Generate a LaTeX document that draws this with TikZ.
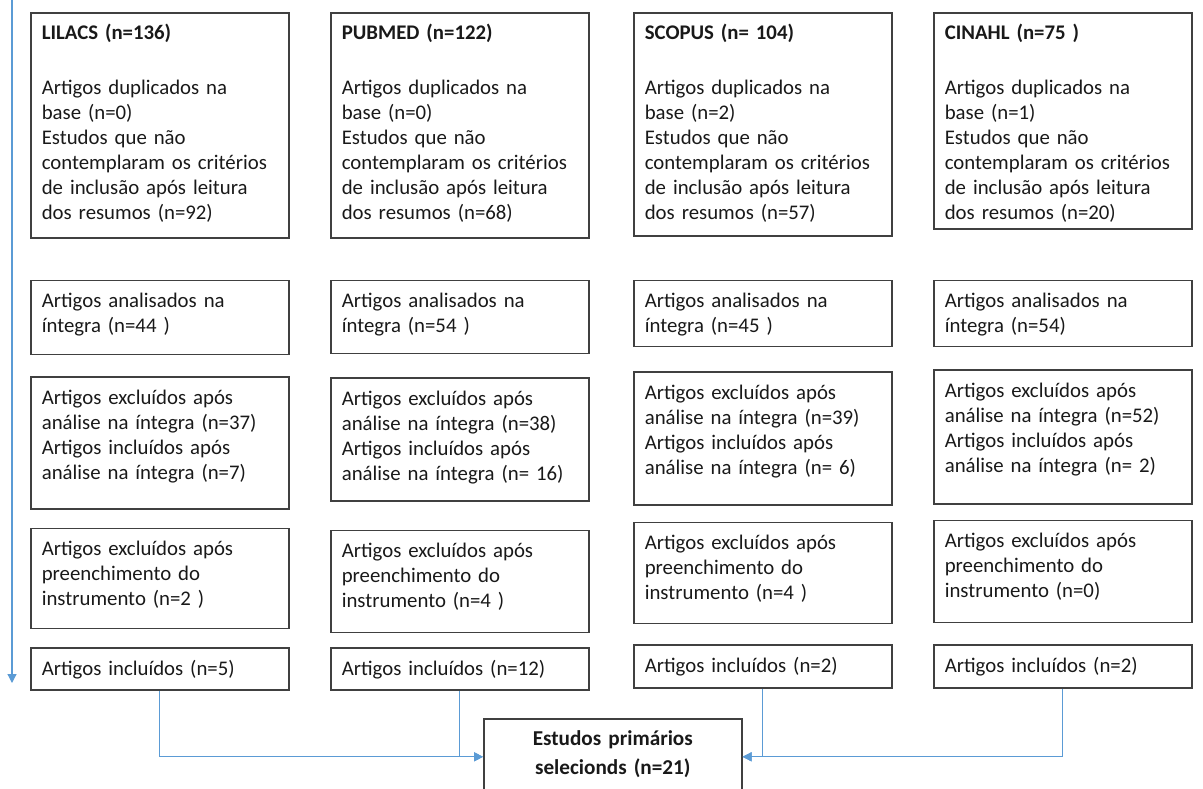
\documentclass[tikz,border=0pt]{standalone}
\usepackage{fontspec}
\setmainfont{Carlito}
\usetikzlibrary{arrows.meta, positioning}

\definecolor{boxgray}{RGB}{64,64,64}
\definecolor{flowblue}{RGB}{91,155,213}
\newcommand{\boxfont}{\fontsize{10.4}{12.5}\selectfont}
\newcommand{\finalfont}{\fontsize{10.6}{14.5}\selectfont\bfseries}

\begin{document}
\begin{tikzpicture}[
    box/.style={draw=boxgray, line width=0.8pt, anchor=north west, align=left, text width=118pt,
      inner xsep=5.5pt, inner ysep=0pt, text height=13.5pt, font=\boxfont, text=black!90},
    boxht/.style={text depth=#1-13.5pt},
    arrow/.style={-{Triangle[length=4.5pt, width=4.5pt]}, line width=0.6pt, draw=flowblue}
  ]
    \clip (0,0) rectangle (601.5pt,-394pt);

    % LILACS
    \node[box, boxht=112.5pt] (lilacs) at (15pt,-6pt) {\textbf{LILACS (n=136)}\\[15pt]Artigos duplicados na\\base (n=0)\\Estudos que não\\contemplaram~os~critérios\\de inclusão após leitura\\dos resumos (n=92)};
    \node[box, boxht=37pt, below=20.5pt of lilacs] (lilfull) {Artigos analisados na\\íntegra (n=44 )};
    \node[box, boxht=66pt, below=10.5pt of lilfull] (lilexcl) {Artigos excluídos após\\análise na íntegra (n=37)\\Artigos incluídos após\\análise na íntegra (n=7)};
    \node[box, boxht=50pt, below=9pt of lilexcl] (lilform) {Artigos excluídos após\\preenchimento do\\instrumento (n=2 )};
    \node[box, boxht=21pt, below=9pt of lilform] (lilincl) {Artigos incluídos (n=5)};

    % PUBMED
    \node[box, boxht=112.5pt] (pubmed) at (165pt,-6pt) {\textbf{PUBMED (n=122)}\\[15pt]Artigos duplicados na\\base (n=0)\\Estudos que não\\contemplaram~os~critérios\\de inclusão após leitura\\dos resumos (n=68)};
    \node[box, boxht=36.5pt, below=20.5pt of pubmed] (pubfull) {Artigos analisados na\\íntegra (n=54 )};
    \node[box, boxht=61.5pt, below=11.5pt of pubfull] (pubexcl) {Artigos excluídos após\\análise na íntegra (n=38)\\Artigos incluídos após\\análise na íntegra (n= 16)};
    \node[box, boxht=51pt, below=14pt of pubexcl] (pubform) {Artigos excluídos após\\preenchimento do\\instrumento (n=4 )};
    \node[box, boxht=21pt, below=7pt of pubform] (pubincl) {Artigos incluídos (n=12)};

    % SCOPUS
    \node[box, boxht=111.5pt] (scopus) at (316.5pt,-6pt) {\textbf{SCOPUS (n= 104)}\\[15pt]Artigos duplicados na\\base (n=2)\\Estudos que não\\contemplaram~os~critérios\\de inclusão após leitura\\dos resumos (n=57)};
    \node[box, boxht=33pt, below=21.5pt of scopus] (scofull) {Artigos analisados na\\íntegra (n=45 )};
    \node[box, boxht=66.5pt, below=12pt of scofull] (scoexcl) {Artigos excluídos após\\análise na íntegra (n=39)\\Artigos incluídos após\\análise na íntegra (n= 6)};
    \node[box, boxht=50.5pt, below=8pt of scoexcl] (scoform) {Artigos excluídos após\\preenchimento do\\instrumento (n=4 )};
    \node[box, boxht=21.5pt, below=10pt of scoform] (scoincl) {Artigos incluídos (n=2)};

    % CINAHL
    \node[box, boxht=108pt] (cinahl) at (466.5pt,-6pt) {\textbf{CINAHL (n=75 )}\\[15pt]Artigos duplicados na\\base (n=1)\\Estudos que não\\contemplaram~os~critérios\\de inclusão após leitura\\dos resumos (n=20)};
    \node[box, boxht=33pt, below=25pt of cinahl] (cinfull) {Artigos analisados na\\íntegra (n=54)};
    \node[box, boxht=67pt, below=11pt of cinfull] (cinexcl) {Artigos excluídos após\\análise na íntegra (n=52)\\Artigos incluídos após\\análise na íntegra (n= 2)};
    \node[box, boxht=51pt, below=7.5pt of cinexcl] (cinform) {Artigos excluídos após\\preenchimento do\\instrumento (n=0)};
    \node[box, boxht=21.5pt, below=10.5pt of cinform] (cinincl) {Artigos incluídos (n=2)};

    % result
    \node[box, boxht=38pt, align=center, font=\finalfont] (final) at (241.5pt,-359pt) {Estudos primários\\selecionds (n=21)};

    % flow
    \coordinate (flowtop) at (6pt,0pt);
    \coordinate (flowend) at (6pt,-341.5pt);
    \draw[arrow] (flowtop) -- (flowend);

    \draw[arrow] (lilincl.south) |- (final.west);
    \draw[arrow] (pubincl.south) |- (final.west);
    \draw[arrow] (scoincl.south) |- (final.east);
    \draw[arrow] (cinincl.south) |- (final.east);
  \end{tikzpicture}
\end{document}
